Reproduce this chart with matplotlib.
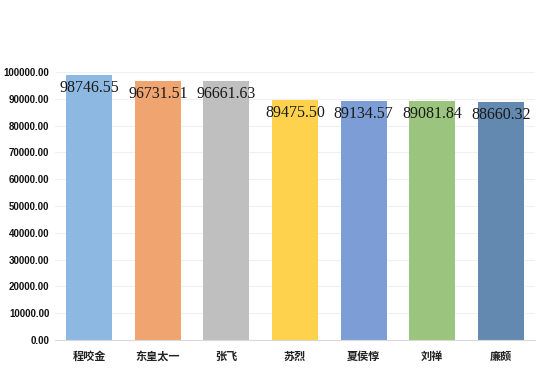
import matplotlib

matplotlib.use("Agg")
import matplotlib.pyplot as plt

plt.rcParams["font.family"] = ["Noto Sans CJK SC", "DejaVu Sans"]

names = ["程咬金", "东皇太一", "张飞", "苏烈", "夏侯惇", "刘禅", "廉颇"]
values = [98746.55, 96731.51, 96661.63, 89475.50, 89134.57, 89081.84, 88660.32]
colors = ["#8DB8E2", "#F0A470", "#BFBFBF", "#FFD24D", "#7C9DD6", "#9BC57E", "#6389B0"]
yticks = list(range(0, 100001, 10000))

fig = plt.figure(figsize=(5.4, 3.71), dpi=100)
ax = fig.add_axes([55 / 540, 31 / 371, 480 / 540, 268 / 371])

x = range(len(names))
bars = ax.bar(x, values, width=0.67, color=colors, zorder=2)

for rect, v in zip(bars, values):
    ax.annotate(f"{v:.2f}", (rect.get_x() + rect.get_width() / 2, v),
                xytext=(0, -3.5), textcoords="offset points",
                ha="center", va="top", fontsize=11.5,
                family="Liberation Serif", color="#1a1a1a", zorder=3)

ax.set_xlim(-0.5, len(names) - 0.5)
ax.set_ylim(0, 100000)
ax.set_yticks(yticks)
ax.set_yticklabels([f"{t:.2f}" for t in yticks], fontsize=7,
                   fontweight="bold", family="Liberation Sans", color="#111111")
ax.set_xticks(list(x))
ax.set_xticklabels(names, fontsize=8, fontweight="bold", color="#222222")
ax.tick_params(axis="both", length=0)
ax.tick_params(axis="x", pad=7)
ax.tick_params(axis="y", pad=4)

ax.grid(axis="y", color="#F0F0F0", linewidth=0.8, zorder=0)
for side in ["top", "right", "left"]:
    ax.spines[side].set_visible(False)
ax.spines["bottom"].set_color("#D9D9D9")

plt.savefig("out.png", dpi=100)
plt.close(fig)
